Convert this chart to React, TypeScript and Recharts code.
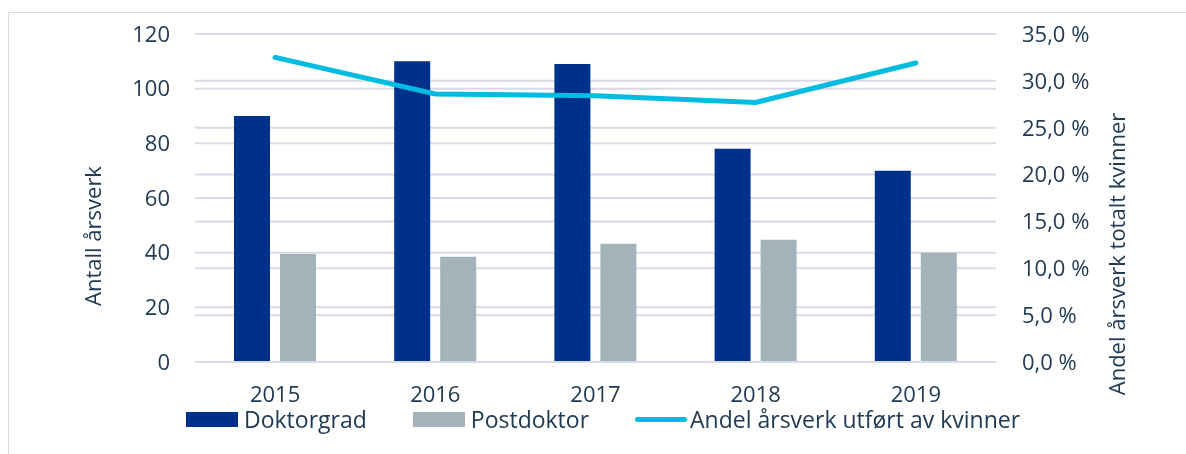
import { ComposedChart, Bar, Line, XAxis, YAxis, CartesianGrid, Legend, Label } from "recharts";

const years = ["2015", "2016", "2017", "2018", "2019"];
const doktorgrad = [90, 110, 109, 78, 70];
const postdoktor = [39.5, 38.5, 43.3, 44.7, 40];
const andelKvinner = [32.5, 28.6, 28.4, 27.7, 31.9];
const leftTicks = [0, 20, 40, 60, 80, 100, 120];
const rightTicks = [0, 5, 10, 15, 20, 25, 30, 35];
const seriesNames = ["Doktorgrad", "Postdoktor", "Andel årsverk utført av kvinner"];

const data = years.map((year, i) => ({
  year,
  doktorgrad: doktorgrad[i],
  postdoktor: postdoktor[i],
  andel: andelKvinner[i],
}));

const textColor = "#213B55";
const gridColor = "#D8DAE5";
const font = "'Open Sans', sans-serif";
const tickStyle = { fill: textColor, fontSize: 22, fontFamily: font };

const pct = (v: number) => `${v.toFixed(1).replace(".", ",")} %`;

const renderLegend = (props: any) => {
  const items = [...(props.payload || [])].sort(
    (a: any, b: any) => seriesNames.indexOf(a.value) - seriesNames.indexOf(b.value)
  );
  return (
    <div style={{ height: 0, overflow: "visible" }}>
      <div style={{ display: "flex", alignItems: "center", height: 24, fontFamily: font, fontSize: 23, color: textColor }}>
        {items.map((it: any) => (
          <div key={it.value} style={{ display: "flex", alignItems: "center", marginRight: 46 }}>
            {it.type === "line" ? (
              <div style={{ width: 52, height: 5, borderRadius: 3, background: it.color, marginRight: 3 }} />
            ) : (
              <div style={{ width: 52, height: 15, background: it.color, marginRight: 6 }} />
            )}
            <span style={{ lineHeight: "14px" }}>{it.value}</span>
          </div>
        ))}
      </div>
    </div>
  );
};

export default function App() {
  return (
    <div>
      <div
        style={{
          position: "fixed",
          left: 8,
          top: 12,
          width: 1200,
          height: 470,
          border: "1.5px solid #D9D9D9",
          boxSizing: "border-box",
        }}
      />
      <div style={{ position: "fixed", left: 0, top: 0, width: 1186, height: 454 }}>
        <ComposedChart
          width={1186}
          height={454}
          data={data}
          margin={{ top: 34, right: 0, bottom: 62, left: 0 }}
          barSize={36}
          barGap={10}
        >
          <CartesianGrid yAxisId="left" vertical={false} stroke={gridColor} strokeWidth={2} />
          <CartesianGrid yAxisId="right" vertical={false} stroke={gridColor} strokeWidth={2} />
          <XAxis
            dataKey="year"
            height={30}
            tick={tickStyle}
            tickLine={false}
            tickSize={0}
            tickMargin={24}
            axisLine={{ stroke: gridColor, strokeWidth: 2 }}
          />
          <YAxis
            yAxisId="left"
            domain={[0, 120]}
            ticks={leftTicks}
            width={195}
            tick={tickStyle}
            tickLine={false}
            tickSize={0}
            tickMargin={25}
            axisLine={false}
          >
            <Label
              content={() => (
                <text
                  x={101}
                  y={236}
                  transform="rotate(-90, 101, 236)"
                  textAnchor="middle"
                  fill={textColor}
                  fontSize={22}
                  fontFamily={font}
                >
                  Antall årsverk
                </text>
              )}
            />
          </YAxis>
          <YAxis
            yAxisId="right"
            orientation="right"
            domain={[0, 35]}
            ticks={rightTicks}
            width={190}
            tick={tickStyle}
            tickFormatter={pct}
            tickLine={false}
            tickSize={0}
            tickMargin={26}
            axisLine={false}
          >
            <Label
              content={() => (
                <text
                  x={1125}
                  y={254}
                  transform="rotate(-90, 1125, 254)"
                  textAnchor="middle"
                  fill={textColor}
                  fontSize={22}
                  fontFamily={font}
                >
                  Andel årsverk totalt kvinner
                </text>
              )}
            />
          </YAxis>
          <Bar yAxisId="left" dataKey="doktorgrad" name={seriesNames[0]} fill="#00318A" legendType="rect" isAnimationActive={false} />
          <Bar yAxisId="left" dataKey="postdoktor" name={seriesNames[1]} fill="#A4B2BA" legendType="rect" isAnimationActive={false} />
          <Line
            yAxisId="right"
            type="linear"
            dataKey="andel"
            name={seriesNames[2]}
            stroke="#00BCE1"
            strokeWidth={5}
            strokeLinecap="round"
            dot={false}
            activeDot={false}
            legendType="line"
            isAnimationActive={false}
          />
          <Legend
            content={renderLegend}
            wrapperStyle={{ position: "absolute", left: 186, top: 407, width: "auto", height: 0 }}
          />
        </ComposedChart>
      </div>
    </div>
  );
}
